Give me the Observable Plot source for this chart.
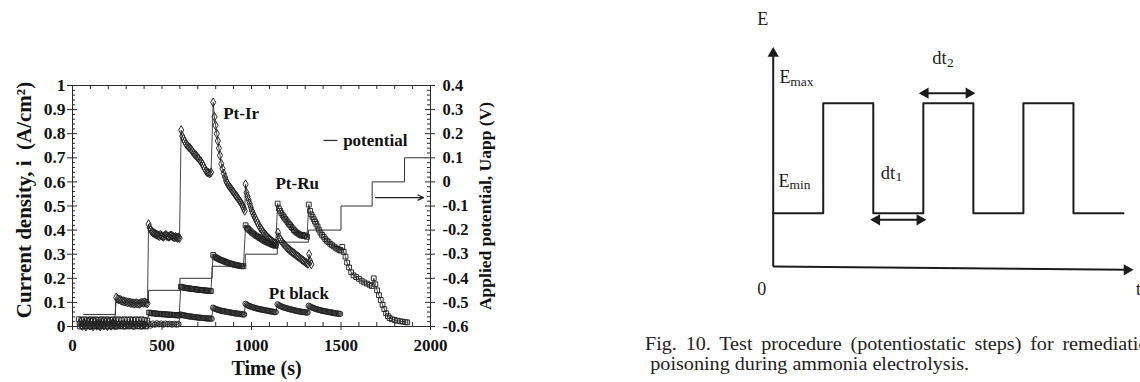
<!DOCTYPE html>
<html><head><meta charset="utf-8">
<script src="https://cdn.jsdelivr.net/npm/d3@7"></script>
<script src="https://cdn.jsdelivr.net/npm/@observablehq/plot@0.6"></script>
<style>
html,body{margin:0;padding:0;background:#fff;overflow:hidden;}
#page{position:relative;width:1140px;height:382px;overflow:hidden;background:#fff;}
#left{position:absolute;left:0;top:0;}
#right{position:absolute;left:740px;top:0;}
#caption{position:absolute;left:645px;top:334px;font-family:'Liberation Serif','Times New Roman',serif;font-size:19px;line-height:20px;color:#222;white-space:nowrap;transform:scaleX(1.06);transform-origin:0 0;}
#caption .l1{word-spacing:3.5px;}
#caption .l2{margin-left:5px;}
</style></head><body>
<div id="page"><div id="left"></div><div id="right"></div>
<div id="caption"><div class="l1">Fig. 10. Test procedure (potentiostatic steps) for remediation of</div><div class="l2">poisoning during ammonia electrolysis.</div></div></div>
<script>
// ---------- Left chart data: [time (s), current density (A/cm2)] ----------
const ptIr = [
 [45,0.018],[55,0.002],[65,0.015],[75,0.0],[85,0.02],[95,0.004],[105,0.017],[115,0.0],[125,0.019],[135,0.003],[145,0.016],[155,0.0],[165,0.02],[175,0.004],[185,0.018],[195,0.001],[205,0.02],[215,0.003],[225,0.016],[235,0.005],
 [244,0.12],[252,0.115],[260,0.112],[268,0.11],[276,0.107],[284,0.105],[292,0.104],[300,0.102],[308,0.1],[316,0.1],[324,0.098],[332,0.097],[340,0.096],[348,0.095],[356,0.097],[364,0.095],[372,0.094],[380,0.097],[388,0.099],[396,0.098],[404,0.1],[412,0.097],[419,0.096],
 [425,0.425],[431,0.41],[437,0.4],[443,0.395],[449,0.39],[455,0.388],[461,0.385],[467,0.382],[473,0.38],[479,0.378],[485,0.375],[491,0.38],[497,0.377],[503,0.374],[509,0.372],[515,0.378],[521,0.38],[527,0.376],[533,0.374],[539,0.372],[545,0.376],[551,0.378],[557,0.375],[563,0.372],[569,0.37],[575,0.372],[581,0.369],[587,0.368],[593,0.37],[598,0.367],
 [607,0.815],[613,0.79],[620,0.778],[627,0.768],[634,0.758],[641,0.752],[648,0.745],[655,0.742],[662,0.735],[669,0.728],[676,0.72],[683,0.715],[690,0.71],[697,0.703],[704,0.698],[711,0.69],[718,0.685],[725,0.675],[732,0.665],[739,0.655],[746,0.645],[753,0.64],[760,0.638],[767,0.635],[774,0.64],
 [786,0.93],[793,0.87],[799,0.835],[806,0.8],[812,0.77],[818,0.74],[824,0.71],[831,0.675],[838,0.655],[845,0.635],[852,0.62],[858,0.605],[864,0.595],[871,0.587],[877,0.58],[883,0.575],[890,0.567],[896,0.56],[902,0.555],[908,0.548],[914,0.542],[920,0.537],[926,0.53],[933,0.522],[939,0.516],[945,0.508],[951,0.5],[957,0.49],[962,0.48],
 [967,0.59],[972,0.555],[978,0.54],[984,0.525],[990,0.51],[996,0.495],[1002,0.48],[1008,0.47],[1014,0.46],[1020,0.45],[1027,0.44],[1034,0.43],[1041,0.42],[1048,0.41],[1055,0.403],[1062,0.395],[1069,0.388],[1076,0.382],[1083,0.376],[1090,0.37],[1097,0.365],[1104,0.36],[1111,0.356],[1118,0.352],[1125,0.348],[1132,0.345],[1139,0.342],
 [1148,0.39],[1155,0.37],[1162,0.36],[1169,0.352],[1176,0.346],[1183,0.34],[1190,0.334],[1197,0.328],[1204,0.323],[1211,0.318],[1218,0.314],[1225,0.31],[1232,0.306],[1239,0.302],[1246,0.298],[1253,0.294],[1260,0.29],[1267,0.286],[1274,0.282],[1281,0.278],[1288,0.274],[1295,0.27],[1302,0.266],[1309,0.263],[1316,0.26],[1322,0.3],[1328,0.27],[1334,0.258]
];
const ptRu = [
 [35,0.03],[42,0.0],[50,0.028],[58,0.002],[66,0.03],[74,0.0],[82,0.027],[90,0.003],[98,0.03],[106,0.0],[114,0.028],[122,0.002],[130,0.03],[138,0.001],[146,0.027],[154,0.0],[162,0.03],[170,0.002],[178,0.028],[186,0.0],[194,0.03],[202,0.003],[210,0.027],[218,0.0],[226,0.03],[234,0.002],[242,0.028],[250,0.0],[258,0.03],[266,0.003],[274,0.027],[282,0.0],[290,0.03],[298,0.002],[306,0.028],[314,0.0],[322,0.03],[330,0.003],[338,0.027],[346,0.0],[354,0.03],[362,0.002],[370,0.028],[378,0.0],[386,0.03],[394,0.003],[402,0.027],[410,0.0],[418,0.025],
 [428,0.058],[436,0.056],[444,0.055],[452,0.054],[460,0.055],[468,0.053],[476,0.052],[484,0.053],[492,0.051],[500,0.052],[508,0.05],[516,0.051],[524,0.05],[532,0.049],[540,0.05],[548,0.048],[556,0.049],[564,0.047],[572,0.048],[580,0.047],[588,0.046],[596,0.046],
 [605,0.165],[612,0.163],[619,0.162],[626,0.161],[633,0.16],[640,0.159],[647,0.158],[654,0.158],[661,0.157],[668,0.156],[675,0.155],[682,0.155],[689,0.154],[696,0.153],[703,0.153],[710,0.152],[717,0.151],[724,0.151],[731,0.15],[738,0.15],[745,0.149],[752,0.149],[759,0.148],[766,0.148],[773,0.147],
 [786,0.297],[793,0.29],[800,0.287],[807,0.284],[814,0.281],[821,0.278],[828,0.276],[835,0.274],[842,0.272],[849,0.27],[856,0.268],[863,0.266],[870,0.264],[877,0.262],[884,0.261],[891,0.259],[898,0.258],[905,0.256],[912,0.255],[919,0.254],[926,0.253],[933,0.252],[940,0.251],[947,0.25],[955,0.25],
 [967,0.42],[974,0.41],[981,0.405],[988,0.4],[995,0.395],[1002,0.39],[1009,0.386],[1016,0.382],[1023,0.378],[1030,0.375],[1037,0.372],[1044,0.368],[1051,0.365],[1058,0.362],[1065,0.358],[1072,0.355],[1079,0.352],[1086,0.35],[1093,0.347],[1100,0.345],[1107,0.343],[1114,0.34],[1121,0.338],[1128,0.336],[1135,0.335],
 [1146,0.51],[1153,0.49],[1160,0.48],[1167,0.47],[1174,0.462],[1181,0.455],[1188,0.447],[1195,0.44],[1202,0.433],[1209,0.426],[1216,0.42],[1223,0.413],[1230,0.407],[1237,0.4],[1244,0.395],[1251,0.39],[1258,0.387],[1265,0.384],[1272,0.38],[1279,0.377],[1286,0.38],[1293,0.375],[1300,0.378],[1310,0.372],
 [1320,0.506],[1327,0.48],[1334,0.465],[1341,0.455],[1348,0.445],[1355,0.435],[1362,0.426],[1369,0.415],[1376,0.402],[1385,0.39],[1394,0.38],[1403,0.372],[1412,0.363],[1421,0.356],[1430,0.35],[1440,0.343],[1450,0.337],[1460,0.332],[1470,0.327],[1480,0.322],[1490,0.318],[1498,0.315],
 [1507,0.33],[1515,0.31],[1525,0.29],[1534,0.265],[1545,0.245],[1557,0.225],[1570,0.212],[1585,0.205],[1600,0.198],[1615,0.19],[1630,0.183],[1645,0.178],[1660,0.173],[1672,0.168],
 [1683,0.2],[1692,0.175],[1702,0.15],[1712,0.13],[1722,0.11],[1732,0.09],[1742,0.072],[1752,0.055],[1762,0.043],[1772,0.035],[1785,0.03],[1800,0.027],[1815,0.024],[1830,0.022],[1845,0.02],[1860,0.018],[1870,0.017]
];
const ptBlack = [
 [40,0.012],[52,0.0],[64,0.01],[76,0.002],[88,0.012],[100,0.0],[112,0.01],[124,0.002],[136,0.012],[148,0.0],[160,0.01],[172,0.003],[184,0.012],[196,0.0],[208,0.01],[220,0.002],[232,0.012],[244,0.0],[256,0.01],[268,0.002],[280,0.012],[292,0.0],[304,0.01],[316,0.003],[328,0.012],[340,0.0],[352,0.01],[364,0.002],[376,0.012],[388,0.0],[400,0.01],[412,0.003],[424,0.012],[436,0.004],[448,0.012],[460,0.008],[472,0.013],[484,0.009],[496,0.012],[508,0.008],[520,0.012],[532,0.009],[544,0.011],[556,0.008],[568,0.011],[580,0.008],[592,0.01],
 [603,0.05],[610,0.048],[617,0.047],[624,0.046],[631,0.045],[638,0.044],[645,0.043],[652,0.042],[659,0.041],[666,0.041],[673,0.04],[680,0.039],[687,0.039],[694,0.038],[701,0.037],[708,0.037],[715,0.036],[722,0.036],[729,0.035],[736,0.035],[743,0.034],[750,0.034],[757,0.033],[764,0.033],[771,0.033],[777,0.032],
 [785,0.078],[792,0.075],[799,0.073],[806,0.071],[813,0.069],[820,0.068],[827,0.066],[834,0.065],[841,0.064],[848,0.063],[855,0.062],[862,0.061],[869,0.06],[876,0.059],[883,0.058],[890,0.057],[897,0.056],[904,0.055],[911,0.054],[918,0.054],[925,0.053],[932,0.052],[939,0.052],[946,0.051],[953,0.05],[959,0.05],
 [967,0.094],[974,0.09],[981,0.087],[988,0.085],[995,0.083],[1002,0.081],[1009,0.079],[1016,0.078],[1023,0.076],[1030,0.075],[1037,0.073],[1044,0.072],[1051,0.071],[1058,0.07],[1065,0.069],[1072,0.068],[1079,0.067],[1086,0.066],[1093,0.065],[1100,0.064],[1107,0.063],[1114,0.062],[1121,0.061],[1128,0.06],[1135,0.06],
 [1146,0.092],[1153,0.088],[1160,0.085],[1167,0.083],[1174,0.081],[1181,0.079],[1188,0.077],[1195,0.076],[1202,0.074],[1209,0.073],[1216,0.071],[1223,0.07],[1230,0.069],[1237,0.068],[1244,0.066],[1251,0.065],[1258,0.064],[1265,0.063],[1272,0.062],[1279,0.061],[1286,0.06],[1293,0.06],[1300,0.059],[1307,0.058],[1313,0.058],
 [1320,0.086],[1327,0.083],[1334,0.08],[1341,0.078],[1348,0.076],[1355,0.074],[1362,0.072],[1369,0.071],[1376,0.069],[1383,0.068],[1390,0.066],[1397,0.065],[1404,0.064],[1411,0.063],[1418,0.062],[1425,0.061],[1432,0.06],[1439,0.059],[1446,0.058],[1453,0.057],[1460,0.056],[1467,0.055],[1474,0.054],[1481,0.054],[1488,0.053],[1495,0.052]
];
// applied potential steps (V, right axis)
const potTime  = [63, 240, 425, 600, 780, 965, 1144, 1318, 1500, 1674, 1855, 1972];
const potValue = [-0.55, -0.50, -0.45, -0.40, -0.35, -0.30, -0.25, -0.20, -0.10, 0.0, 0.10, 0.10];
// ticks and tick labels
const xTicks = [0, 500, 1000, 1500, 2000];
const xTickLabels = ["0", "500", "1000", "1500", "2000"];
const yTicks = [0, 0.1, 0.2, 0.3, 0.4, 0.5, 0.6, 0.7, 0.8, 0.9, 1];
const yTickLabels = ["0", "0.1", "0.2", "0.3", "0.4", "0.5", "0.6", "0.7", "0.8", "0.9", "1"];
const potTickLabels = ["-0.6", "-0.5", "-0.4", "-0.3", "-0.2", "-0.1", "0", "0.1", "0.2", "0.3", "0.4"];
const potOffset = 0.6; // right axis value + 0.6 = left axis value
// annotations
const seriesLabels = [
 {label: "Pt-Ir", t: 842, i: 0.861},
 {label: "Pt-Ru", t: 1134, i: 0.571},
 {label: "Pt black", t: 1097, i: 0.115}
];
const legendText = [{label: "potential", t: 1512, i: 0.747}];
const legendDash = [{t1: 1402, t2: 1480, i: 0.772}];
const potArrow = [{t1: 1693, t2: 1961, u: -0.065}];

// ---------- Right diagram data (schematic units) ----------
const waveTime  = [0, 1, 2, 3, 4, 5, 6, 7];
const Emin = 1.6, Emax = 4.9;
const waveLevel = [Emin, Emax, Emin, Emax, Emin, Emax, Emin, Emin];
const axisLines = [{x1: 0, y1: 0, x2: 0, y2: 6.39}, {x1: 0, y1: 0, x2: 7.07, y2: -0.1}];
const spanLines = [{x1: 2.95, y1: 5.2, x2: 4.0, y2: 5.2}, {x1: 1.98, y1: 1.4, x2: 3.02, y2: 1.4}];
const heads = [
 {u: 0, e: 6.39, rot: 0}, {u: 7.07, e: -0.1, rot: 90},
 {u: 3.04, e: 5.2, rot: -90}, {u: 3.91, e: 5.2, rot: 90},
 {u: 2.07, e: 1.4, rot: -90}, {u: 2.93, e: 1.4, rot: 90}
];
const bigText = [
 {s: "E", u: -0.32, e: 7.24}, {s: "E", u: 0.126, e: 5.5}, {s: "E", u: 0.106, e: 2.38},
 {s: "0", u: -0.32, e: -0.87}, {s: "t", u: 7.25, e: -0.87}
];
const dtText = [{s: "dt", u: 3.18, e: 6.07}, {s: "dt", u: 2.15, e: 2.64}];
const subText = [
 {s: "max", u: 0.34, e: 5.42}, {s: "min", u: 0.326, e: 2.33},
 {s: "2", u: 3.475, e: 5.99}, {s: "1", u: 2.445, e: 2.57}
];

// ---------- Build ----------
const SERIF = "'Liberation Serif','Times New Roman',serif";
const toRows = arr => arr.map(([t, i]) => ({t, i}));
const potRows = potTime.map((t, k) => ({t, u: potValue[k]}));
const yMinor = d3.range(0, 1.0001, 0.02).filter(v => Math.abs(v * 10 - Math.round(v * 10)) > 1e-6);
const xMinor = d3.range(100, 2000, 100).filter(v => v % 500 !== 0);
const xTop = d3.range(100, 2000, 100);
const ink = "#2a2a2a";

const seriesDefs = [
 {rows: toRows(ptBlack), symbol: "circle"},
 {rows: toRows(ptRu), symbol: "square"},
 {rows: toRows(ptIr), symbol: "diamond"}
];
const seriesMarks = seriesDefs.flatMap(s => [
 Plot.line(s.rows, {x: "t", y: "i", stroke: "#333", strokeWidth: 0.9}),
 Plot.dot(s.rows, {x: "t", y: "i", symbol: s.symbol, r: 2.7, fill: "none", stroke: "#222", strokeWidth: 0.95})
]);

const W = 500, H = 382, ML = 72, MR = 70, MT = 85, MB = 56;
const IW = W - ML - MR, IH = H - MT - MB;

const left = Plot.plot({
 width: W, height: H, marginLeft: ML, marginRight: MR, marginTop: MT, marginBottom: MB,
 x: {domain: [0, 2000]},
 y: {domain: [0, 1]},
 style: {fontFamily: SERIF, fontWeight: "bold", color: "#111", background: "transparent", overflow: "visible"},
 marks: [
  Plot.line(potRows, {x: "t", y: d => d.u + potOffset, curve: "step-after", stroke: "#333", strokeWidth: 1}),
  ...seriesMarks,
  Plot.frame({stroke: ink, strokeWidth: 1}),
  Plot.axisY({ticks: yTicks, tickSize: 5, tickPadding: 2, tickFormat: d => yTickLabels[Math.round(d * 10)], fontSize: 17.5, label: null, stroke: ink}),
  Plot.tickY(yTicks, {y: d => d, insetRight: IW - 5, stroke: ink}),
  Plot.tickY(yMinor, {y: d => d, insetRight: IW - 3, stroke: ink}),
  Plot.axisY({anchor: "right", ticks: yTicks, tickSize: 4, tickPadding: 8, tickFormat: d => potTickLabels[Math.round(d * 10)], fontSize: 16.5, label: null, stroke: ink}),
  Plot.tickY(yTicks, {y: d => d, insetLeft: IW - 5, stroke: ink}),
  Plot.tickY(yMinor, {y: d => d, insetLeft: IW - 3, stroke: ink}),
  Plot.axisX({ticks: xTicks, tickSize: 4, tickPadding: 8, tickFormat: d => xTickLabels[xTicks.indexOf(d)], fontSize: 17, label: null, stroke: ink}),
  Plot.tickX(xTicks, {x: d => d, insetTop: IH - 4, stroke: ink}),
  Plot.tickX(xMinor, {x: d => d, insetTop: IH - 4, stroke: ink}),
  Plot.tickX(xTop, {x: d => d, insetBottom: IH - 4, stroke: ink}),
  Plot.text(seriesLabels, {x: "t", y: "i", text: "label", textAnchor: "start", lineAnchor: "bottom", fontSize: 17, fontWeight: "bold", fill: "#111"}),
  Plot.text(legendText, {x: "t", y: "i", text: "label", textAnchor: "start", lineAnchor: "bottom", fontSize: 17, fontWeight: "bold", fill: "#111"}),
  Plot.link(legendDash, {x1: "t1", x2: "t2", y1: "i", y2: "i", stroke: "#333", strokeWidth: 1.3}),
  Plot.arrow(potArrow, {x1: "t1", x2: "t2", y1: d => d.u + potOffset, y2: d => d.u + potOffset, stroke: "#222", strokeWidth: 1.3, headLength: 7, headAngle: 50}),
  Plot.text(["Current density, i\u00a0\u00a0(A/cm\u00b2)"], {frameAnchor: "left", textAnchor: "middle", lineAnchor: "middle", rotate: -90, dx: -48, dy: -6, fontSize: 21, fontWeight: "bold", fill: "#111"}),
  Plot.text(["Applied potential, Uapp (V)"], {frameAnchor: "right", textAnchor: "middle", lineAnchor: "middle", rotate: -90, dx: 55, fontSize: 17.5, fontWeight: "bold", fill: "#111"}),
  Plot.text(["Time (s)"], {frameAnchor: "bottom", textAnchor: "middle", dx: 15, dy: 48, lineAnchor: "bottom", fontSize: 20, fontWeight: "bold", fill: "#111"})
 ]
});
document.getElementById("left").appendChild(left);

const waveRows = waveTime.map((u, k) => ({u, e: waveLevel[k]}));
const dk = "#1c1c1c";
const right = Plot.plot({
 width: 400, height: 330, marginLeft: 32.7, marginRight: 7, marginTop: 46.7, marginBottom: 64,
 x: {domain: [0, 7.2], axis: null},
 y: {domain: [0, 6.58], axis: null},
 style: {fontFamily: SERIF, color: dk, background: "transparent", overflow: "visible"},
 marks: [
  Plot.line(waveRows, {x: "u", y: "e", curve: "step-after", stroke: dk, strokeWidth: 2}),
  Plot.link(axisLines, {x1: "x1", y1: "y1", x2: "x2", y2: "y2", stroke: dk, strokeWidth: 2}),
  Plot.link(spanLines, {x1: "x1", y1: "y1", x2: "x2", y2: "y2", stroke: dk, strokeWidth: 2}),
  Plot.dot(heads, {x: "u", y: "e", symbol: "triangle", rotate: "rot", r: 4.2, fill: dk, stroke: "none"}),
  Plot.text(bigText, {x: "u", y: "e", text: "s", textAnchor: "start", lineAnchor: "bottom", fontSize: 18, fill: dk}),
  Plot.text(dtText, {x: "u", y: "e", text: "s", textAnchor: "start", lineAnchor: "bottom", fontSize: 18.5, fill: dk}),
  Plot.text(subText, {x: "u", y: "e", text: "s", textAnchor: "start", lineAnchor: "bottom", fontSize: 13.5, fill: dk})
 ]
});
document.getElementById("right").appendChild(right);
</script></body></html>
